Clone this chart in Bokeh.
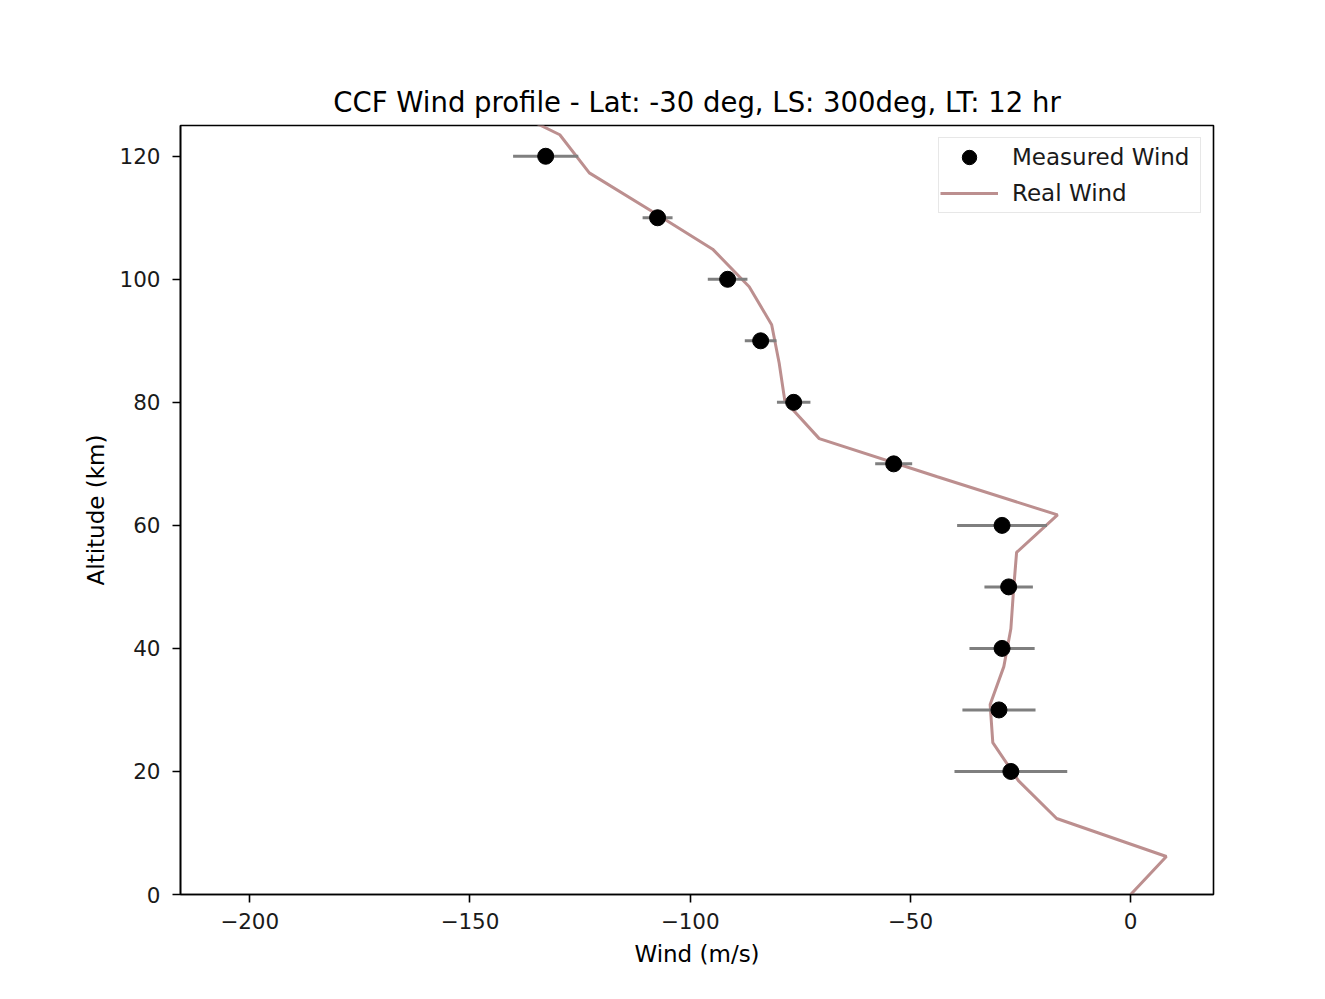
from bokeh.plotting import figure
from bokeh.models import Range1d, FixedTicker, Legend, LegendItem
from bokeh.embed import file_html
from bokeh.resources import INLINE
import numpy as np

# Measured wind (points with horizontal error bars)
meas_alt = [20, 30, 40, 50, 60, 70, 80, 90, 100, 110, 120]
meas_wind = [-27.2, -29.9, -29.2, -27.7, -29.2, -53.8, -76.5, -84.0, -91.5, -107.4, -132.8]
meas_err = [12.8, 8.3, 7.4, 5.5, 10.2, 4.2, 3.8, 3.6, 4.5, 3.4, 7.4]

# Real wind profile
real_alt = [0, 6.17, 12.35, 18.52, 24.7, 30.87, 37.04, 43.2, 49.4, 55.6, 61.7,
            67.9, 74.1, 80.2, 86.4, 92.6, 98.8, 104.9, 111.1, 117.3, 123.5, 129.6]
real_wind = [0.0, 8.1, -16.8, -25.5, -31.3, -31.9, -28.8, -27.2, -26.6, -25.9, -16.6,
             -43.9, -70.7, -78.5, -79.8, -81.5, -86.6, -94.9, -108.8, -122.9, -129.6, -147.0]

x_ticks = [-200, -150, -100, -50, 0]
y_ticks = [0, 20, 40, 60, 80, 100, 120]

FONT = "DejaVu Sans"

p = figure(width=1317, height=991, output_backend="svg", toolbar_location=None,
           x_range=Range1d(-215.7, 18.8), y_range=Range1d(0, 125),
           min_border_left=180, min_border_right=104, min_border_top=125, min_border_bottom=97,
           title="CCF Wind profile - Lat: -30 deg, LS: 300deg, LT: 12 hr")

p.title.align = "center"
p.title.text_font = FONT
p.title.text_font_size = "27.5px"
p.title.text_font_style = "normal"
p.title.text_color = "black"
p.title.standoff = 16

p.xgrid.visible = False
p.ygrid.visible = False
p.outline_line_color = "black"
p.outline_line_width = 1.6
p.background_fill_color = "white"
p.border_fill_color = "white"

for ax, ticks, lab in ((p.xaxis[0], x_ticks, "Wind (m/s)"), (p.yaxis[0], y_ticks, "Altitude (km)")):
    ax.ticker = FixedTicker(ticks=ticks)
    ax.major_label_overrides = {t: (str(t).replace("-", "\u2212")) for t in ticks}
    ax.axis_label = lab
    ax.axis_label_text_font = FONT
    ax.axis_label_text_font_size = "23px"
    ax.axis_label_text_font_style = "normal"
    ax.axis_label_text_color = "black"
    ax.major_label_text_font = FONT
    ax.major_label_text_font_size = "21.5px"
    ax.major_label_text_color = "#1a1a1a"
    ax.axis_line_color = "black"
    ax.axis_line_width = 1.6
    ax.major_tick_line_color = "black"
    ax.major_tick_line_width = 1.6
    ax.major_tick_in = 0
    ax.major_tick_out = 8
    ax.minor_tick_line_color = None

p.xaxis[0].major_label_standoff = 10
p.xaxis[0].axis_label_standoff = 9
p.yaxis[0].major_label_standoff = 12
p.yaxis[0].axis_label_standoff = 7

lo = (np.array(meas_wind) - np.array(meas_err)).tolist()
hi = (np.array(meas_wind) + np.array(meas_err)).tolist()

r_line = p.line(real_wind, real_alt, line_color="#bc8f8f", line_width=3)
p.segment(x0=lo, y0=meas_alt, x1=hi, y1=meas_alt, line_color="#7f7f7f", line_width=3)
r_pts = p.scatter(meas_wind, meas_alt, marker="circle", size=16, fill_color="black", line_color="black")

legend = Legend(items=[LegendItem(label="Measured Wind", renderers=[r_pts]),
                       LegendItem(label="Real Wind", renderers=[r_line])],
                location="top_right")
legend.label_text_font = FONT
legend.label_text_font_size = "23px"
legend.label_text_color = "#1a1a1a"
legend.glyph_width = 58
legend.glyph_height = 36
legend.label_height = 36
legend.label_width = 187
legend.label_standoff = 14
legend.padding = 1
legend.spacing = 0
legend.margin = 12
legend.border_line_color = "#d0d0d0"
legend.border_line_width = 1.5
legend.background_fill_color = "white"
legend.background_fill_alpha = 0.8
p.add_layout(legend)

open("out.html", "w").write(file_html(p, INLINE))
